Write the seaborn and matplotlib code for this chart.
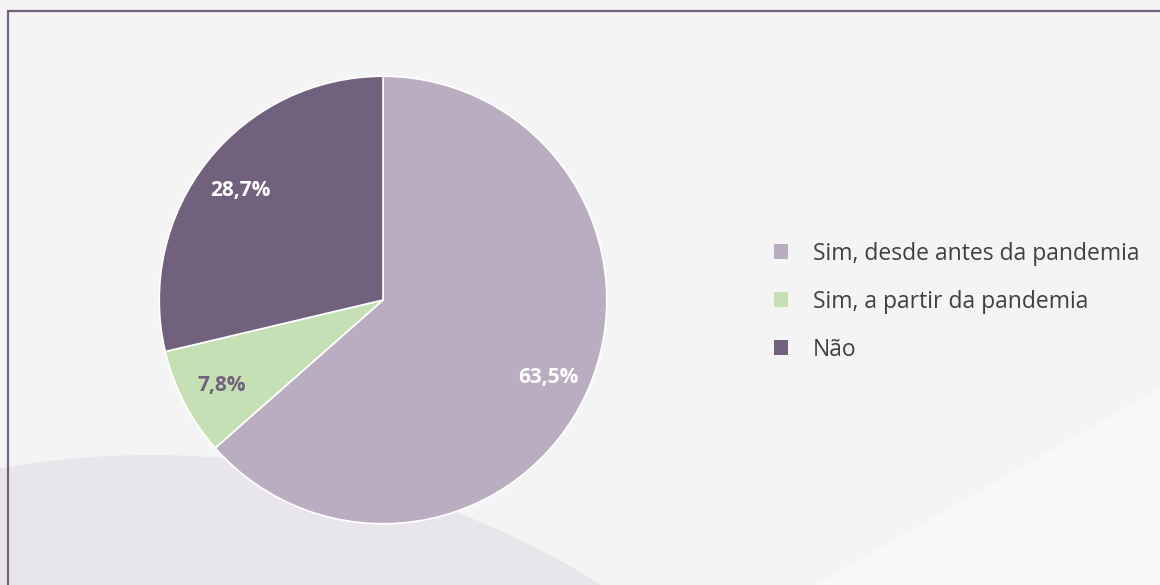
'''
Pie chart: Sim / Não share with decorated background
'''

import matplotlib
matplotlib.use("Agg")
import matplotlib.pyplot as plt
from matplotlib.patches import Ellipse, Polygon, Rectangle
import seaborn as sns

sns.set_theme(style="white")
plt.rcParams['font.family'] = ['Open Sans', 'DejaVu Sans']

# Data
labels = ["Sim, desde antes da pandemia", "Sim, a partir da pandemia", "Não"]
values = [63.5, 7.8, 28.7]
colors = ["#BAADC1", "#C5E0B4", "#72617D"]
label_colors = ["white", "#72617D", "white"]

W, H = 1160, 585
fig = plt.figure(figsize=(W / 100, H / 100), dpi=100)
fig.patch.set_facecolor("#F4F4F4")

# Background decoration (figure pixels -> figure fraction)
circ_r = 849
fig.patches.append(Ellipse((150 / W, 1 - 1304 / H), 2 * circ_r / W, 2 * circ_r / H,
                           transform=fig.transFigure, facecolor="#E8E6EB",
                           edgecolor="none", zorder=-5))
fig.patches.append(Polygon([(1.0, 1 - 388 / H), (1.0, 0.0), (815 / W, 0.0)],
                           closed=True, transform=fig.transFigure,
                           facecolor="#F8F8F8", edgecolor="none", zorder=-5))
fig.patches.append(Rectangle((7.5 / W, -0.1), 1.2, 1 - 10.5 / H + 0.1,
                             transform=fig.transFigure, facecolor="none",
                             edgecolor="#75627F", linewidth=1.6, zorder=-4))

# Pie axes: centre (383, 300) px, radius 226 px
cx, cy, r = 383, 300, 226
ax = fig.add_axes([(cx - r) / W, (H - cy - r) / H, 2 * r / W, 2 * r / H])
wedges, texts, autotexts = ax.pie(values, colors=colors, startangle=90,
                                  counterclock=False, autopct="%.1f%%",
                                  pctdistance=0.81, radius=1,
                                  wedgeprops=dict(edgecolor="white", linewidth=1.2))
for t, c in zip(autotexts, label_colors):
    t.set_text(t.get_text().replace(".", ","))
    t.set_color(c)
    t.set_fontweight("bold")
    t.set_fontsize(15)
    t.set_va("center_baseline")
ax.set_xlim(-1.01, 1.01)
ax.set_ylim(-1.01, 1.01)
ax.axis("off")

# Legend on the right
leg = fig.legend(wedges, labels, loc="upper left",
                 bbox_to_anchor=(753 / W, 1 - 221 / H),
                 frameon=False, fontsize=16.5, labelcolor="#404040",
                 handlelength=0.62, handleheight=0.62, handletextpad=1.1,
                 labelspacing=1.05)
for h in leg.legend_handles:
    h.set_edgecolor("none")

plt.savefig("out.png", dpi=100, facecolor=fig.get_facecolor())
